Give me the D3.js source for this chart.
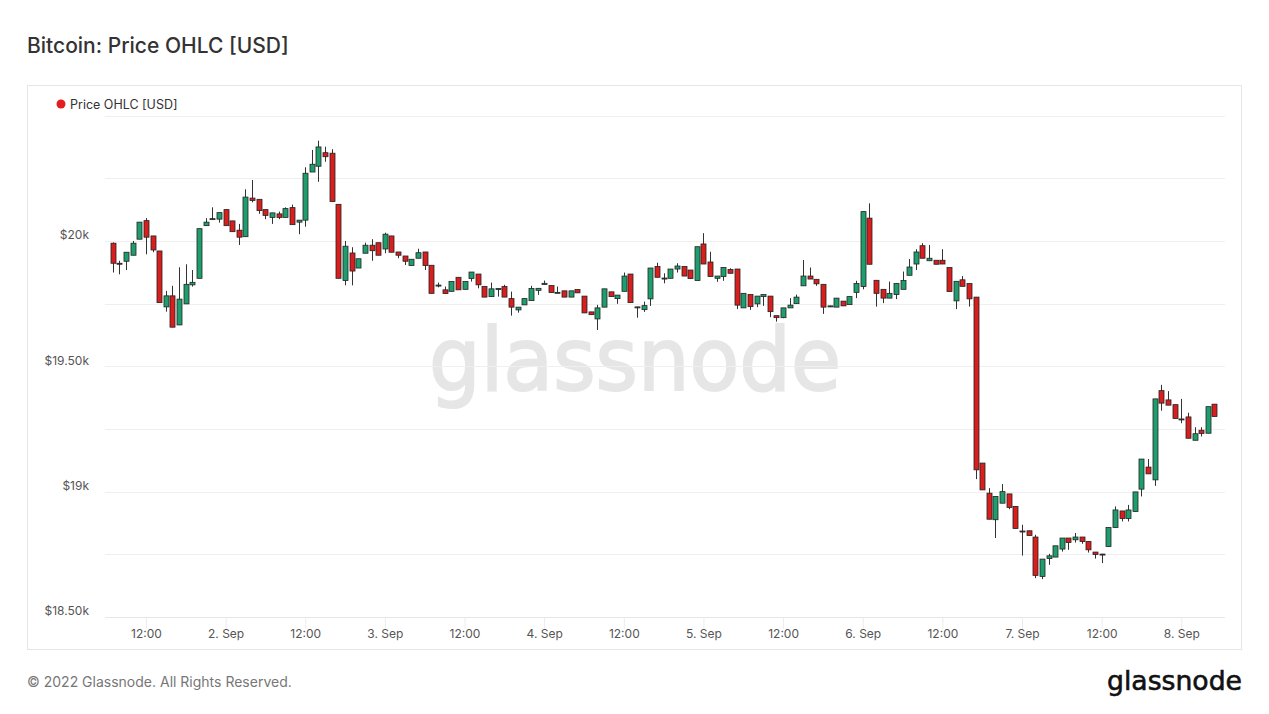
<!DOCTYPE html>
<html><head><meta charset="utf-8">
<script src="https://cdn.jsdelivr.net/npm/d3@7"></script>
<style>
html,body{margin:0;padding:0;background:#fff;}
svg{display:block;font-family:Inter,"Noto Sans",sans-serif;}
</style></head>
<body>
<svg id="c" width="1269" height="714"></svg>
<script>
// Hourly candles starting 2022-09-01 07:00 UTC
const startTime = Date.UTC(2022, 8, 1, 7);
const open = [19991,19911,19919,19943,20007,20081,20020,19960,19737,19781,19665,19749,19825,19851,20061,20087,20087,20125,20080,20043,
20017,20171,20166,20125,20094,20108,20094,20133,20075,20083,20275,20298,20352,20350,20146,19842,19952,19892,19951,19983,
19993,19968,20020,19956,19940,19902,19931,19956,19903,19822,19805,19799,19855,19807,19850,19868,19818,19778,19809,19818,
19770,19725,19745,19762,19803,19826,19822,19794,19801,19776,19806,19780,19717,19689,19736,19797,19770,19799,19868,19736,
19726,19769,19898,19852,19851,19888,19898,19884,19842,19988,19916,19851,19858,19886,19888,19733,19786,19749,19778,19780,
19702,19694,19733,19750,19821,19860,19847,19827,19738,19736,19760,19746,19795,19818,20091,19843,19807,19772,19786,19807,
19863,19908,19981,19921,19923,19923,19894,19761,19845,19830,19776,19114,18994,18888,18954,18991,18941,18843,18844,18819,
18662,18733,18739,18771,18815,18808,18819,18801,18759,18751,18781,18857,18923,18893,18921,19010,19098,19047,19403,19366,
19347,19290,19298,19205,19245,19233,19349];
const high = [19994,19921,19955,20000,20075,20091,20020,19960,19801,19821,19895,19907,19884,20049,20091,20134,20113,20125,20080,20068,
20206,20243,20166,20125,20112,20117,20134,20145,20083,20294,20363,20400,20376,20366,20146,20000,19975,19929,19993,20007,
19993,20033,20020,19956,19940,19927,19969,19956,19903,19834,19818,19838,19855,19838,19876,19868,19818,19834,19811,19825,
19798,19736,19770,19821,19811,19842,19822,19818,19801,19801,19806,19780,19717,19745,19809,19797,19784,19874,19868,19738,
19758,19892,19913,19871,19888,19911,19898,19884,19977,20031,19957,19860,19894,19891,19888,19791,19786,19780,19786,19780,
19702,19733,19772,19786,19924,19894,19847,19827,19742,19772,19760,19778,19841,20117,20150,19843,19807,19838,19830,19878,
19928,19967,19991,19984,19923,19967,19894,19839,19860,19830,19776,19114,19014,18981,19030,18991,18941,18868,18844,18828,
18731,18752,18784,18815,18815,18835,18819,18801,18759,18752,18857,18941,18923,18947,18999,19130,19130,19370,19426,19401,
19347,19370,19315,19257,19257,19339,19349];
const low = [19874,19867,19884,19943,20007,19947,19955,19754,19718,19656,19665,19749,19818,19851,20061,20087,20073,20061,20037,19984,
20017,20154,20108,20087,20068,20087,20094,20065,20027,20057,20275,20236,20316,20157,19851,19823,19823,19892,19951,19921,
19943,19951,19955,19931,19904,19902,19931,19884,19791,19815,19790,19799,19805,19807,19838,19811,19776,19778,19778,19776,
19702,19714,19745,19762,19785,19826,19794,19792,19776,19776,19793,19713,19706,19645,19736,19778,19749,19799,19754,19694,
19717,19741,19855,19831,19851,19874,19860,19850,19842,19908,19858,19837,19841,19871,19728,19733,19725,19736,19741,19696,
19678,19692,19733,19750,19821,19848,19821,19709,19736,19736,19741,19746,19772,19807,19907,19738,19752,19772,19768,19807,
19863,19884,19931,19921,19907,19908,19798,19728,19819,19738,19050,19007,18890,18815,18954,18930,18853,18745,18825,18655,
18651,18708,18739,18761,18768,18797,18792,18757,18733,18715,18781,18857,18881,18881,18921,18981,19071,19023,19323,19345,
19292,19273,19213,19205,19220,19233,19300];
const close = [19911,19909,19955,19991,20075,20015,19964,19754,19781,19656,19768,19827,19835,20049,20075,20089,20113,20061,20037,20015,
20175,20161,20121,20102,20112,20094,20129,20065,20083,20270,20306,20375,20336,20157,19851,19979,19880,19929,19983,19961,
19943,20027,19955,19943,19919,19927,19953,19902,19791,19824,19790,19838,19805,19838,19876,19825,19776,19809,19810,19776,
19736,19736,19770,19810,19811,19831,19794,19795,19776,19801,19793,19713,19706,19733,19809,19778,19784,19860,19754,19737,
19742,19892,19855,19851,19888,19900,19860,19850,19977,19908,19858,19860,19894,19871,19744,19791,19738,19780,19786,19718,
19694,19733,19744,19776,19860,19848,19829,19736,19741,19772,19741,19778,19830,20117,19907,19791,19772,19791,19830,19842,
19896,19956,19931,19931,19907,19908,19798,19839,19819,19769,19087,19007,18890,18981,19000,18937,18853,18841,18825,18666,
18731,18744,18784,18815,18797,18819,18801,18768,18749,18750,18857,18927,18893,18927,18999,19130,19071,19370,19353,19345,
19292,19287,19213,19231,19232,19339,19300];
const yTicks = [18500, 19000, 19500, 20000];
const yGrid = [18500, 18750, 19000, 19250, 19500, 19750, 20000, 20250, 20500];
const yTickLabels = ["$18.50k", "$19k", "$19.50k", "$20k"];

const data = open.map((o, i) => ({
  t: new Date(startTime + i * 3600e3), o, h: high[i], l: low[i], c: close[i]
}));

const svg = d3.select("#c");
const L = 105, R = 1225, T = 115.6, B = 617;

const x = d3.scaleUtc()
  .domain([new Date(Date.UTC(2022, 8, 1, 5, 50)), new Date(Date.UTC(2022, 8, 8, 6, 35))])
  .range([L, R]);
const y = d3.scaleLinear().domain([18500, 20500]).range([B, T]);

// title
svg.append("text").attr("x", 27).attr("y", 53).attr("font-size", 21).attr("font-weight", 500).attr("fill", "#333")
  .text("Bitcoin: Price OHLC [USD]");

// frame
svg.append("rect").attr("x", 27.5).attr("y", 85.5).attr("width", 1214).attr("height", 564)
  .attr("fill", "#fff").attr("stroke", "#e6e6e6");

// watermark (under grid)
svg.append("text").attr("x", 635).attr("y", 390).attr("text-anchor", "middle")
  .attr("font-size", 88).attr("fill", "#e6e6e6").attr("stroke", "#e6e6e6").attr("stroke-width", 2)
  .attr("font-family", "'DejaVu Sans',sans-serif")
  .attr("textLength", 412).attr("lengthAdjust", "spacingAndGlyphs")
  .text("glassnode");

// grid
svg.append("g").selectAll("line").data(yGrid).join("line")
  .attr("x1", L).attr("x2", R)
  .attr("y1", d => Math.round(y(d)) + 0.5).attr("y2", d => Math.round(y(d)) + 0.5)
  .attr("stroke", "#efefef");

// y axis
const yAxis = d3.axisLeft(y).tickValues(yTicks).tickSize(0)
  .tickFormat(d => yTickLabels[yTicks.indexOf(d)]);
const gy = svg.append("g").attr("transform", "translate(89,-6)").call(yAxis);
gy.select(".domain").remove();
gy.selectAll("text").attr("font-size", 12).attr("fill", "#555").attr("font-family", "Inter,sans-serif").attr("x", 0);

// x axis
const xTicks = d3.utcHour.every(12).range(new Date(Date.UTC(2022, 8, 1, 12)), new Date(Date.UTC(2022, 8, 8, 1)));
const fmt = d => d.getUTCHours() === 0 ? d3.utcFormat("%-d. %b")(d) : d3.utcFormat("%H:%M")(d);
const xAxis = d3.axisBottom(x).tickValues(xTicks).tickFormat(fmt).tickSize(12).tickPadding(4);
const gx = svg.append("g").attr("transform", `translate(0,${B})`).call(xAxis);
gx.select(".domain").attr("stroke", "#e6e6e6").attr("d", `M${L},0.5H${R}`);
gx.selectAll(".tick line").attr("stroke", "#ececec").attr("y1", 0);
gx.selectAll("text").attr("font-size", 12).attr("fill", "#555").attr("font-family", "Inter,sans-serif").attr("dy", "0.4em");

// candles
const bw = 5;
const g = svg.append("g");
const cg = g.selectAll("g").data(data).join("g");
cg.append("line")
  .attr("x1", d => Math.round(x(d.t)) + 0.5).attr("x2", d => Math.round(x(d.t)) + 0.5)
  .attr("y1", d => y(d.h)).attr("y2", d => y(d.l))
  .attr("stroke", "#333").attr("stroke-width", 1);
cg.append("rect")
  .attr("x", d => Math.round(x(d.t)) - bw / 2 + 0.5).attr("width", bw)
  .attr("y", d => y(Math.max(d.o, d.c)))
  .attr("height", d => Math.max(1, Math.abs(y(d.o) - y(d.c))))
  .attr("fill", d => d.c >= d.o ? "#1f9e6d" : "#d91e1e")
  .attr("stroke", "#222").attr("stroke-width", 0.8);

// legend
svg.append("circle").attr("cx", 61).attr("cy", 104).attr("r", 4.5).attr("fill", "#e31e1e");
svg.append("text").attr("x", 70).attr("y", 108.5).attr("font-size", 12.5).attr("fill", "#333").text("Price OHLC [USD]");

// footer
svg.append("text").attr("x", 27).attr("y", 687).attr("font-size", 14).attr("fill", "#777")
  .text("© 2022 Glassnode. All Rights Reserved.");
svg.append("text").attr("x", 1242).attr("y", 690).attr("text-anchor", "end").attr("font-size", 26.5)
  .attr("fill", "#111").attr("stroke", "#111").attr("stroke-width", 0.6)
  .attr("font-family", "'DejaVu Sans',sans-serif")
  .attr("textLength", 135).attr("lengthAdjust", "spacingAndGlyphs").text("glassnode");
</script>
</body></html>
